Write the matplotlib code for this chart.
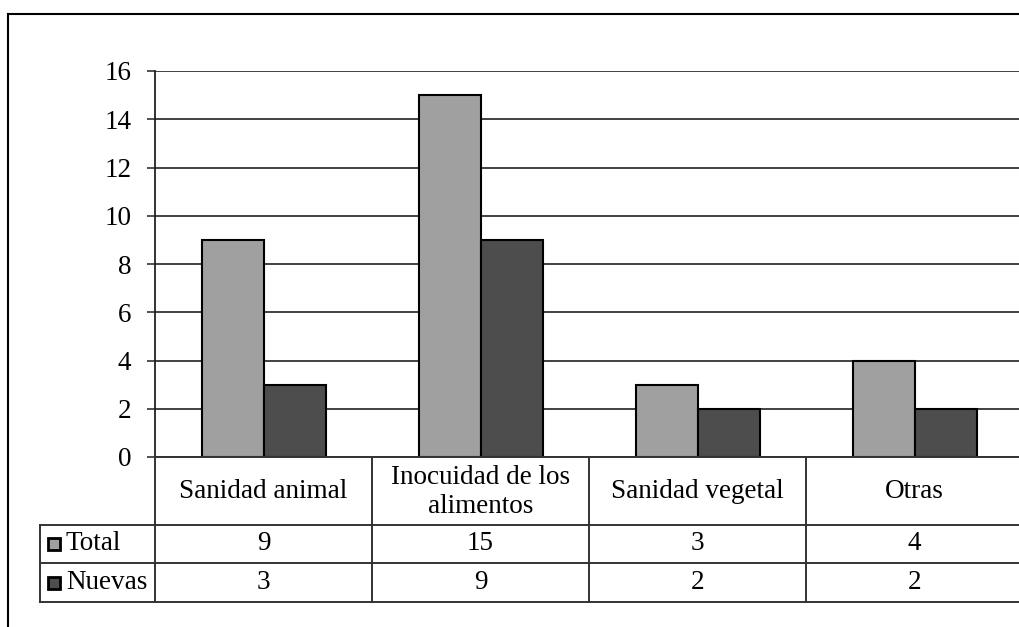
import matplotlib.pyplot as plt
from matplotlib.patches import Rectangle
from matplotlib.lines import Line2D

# Data
categories = ['Sanidad animal', 'Inocuidad de los\nalimentos', 'Sanidad vegetal', 'Otras']
series_names = ['Total', 'Nuevas']
total = [9, 15, 3, 4]
nuevas = [3, 9, 2, 2]
yticks = [0, 2, 4, 6, 8, 10, 12, 14, 16]

colors = ['#a0a0a0', '#4d4d4d']
font = 'Liberation Serif'
fs = 19.5

W, H = 1020, 627
fig = plt.figure(figsize=(W / 100, H / 100), dpi=100)

def fx(px):
    return px / W

def fy(py):
    return 1 - py / H

# plot area (right edge runs a bit past the image like in the reference)
left, right, top, bottom = 155, 1024, 71, 457
ax = fig.add_axes([fx(left), fy(bottom), fx(right - left), fy(top) - fy(bottom)])

bw = 62 / 217
x = list(range(len(categories)))
ax.bar([i - bw / 2 for i in x], total, width=bw, color=colors[0], edgecolor='black', linewidth=1.5, zorder=3)
ax.bar([i + bw / 2 for i in x], nuevas, width=bw, color=colors[1], edgecolor='black', linewidth=1.5, zorder=3)

ax.set_xlim(-0.5, len(categories) - 0.5)
ax.set_ylim(0, 16)
ax.set_yticks(yticks)
ax.set_yticklabels([str(t) for t in yticks], fontfamily=font, fontsize=fs)
ax.tick_params(axis='y', length=6, width=1.2, color='#333333', pad=11)
ax.set_xticks([])
ax.grid(axis='y', color='#333333', linewidth=1.3, zorder=0)
for s in ['top', 'right', 'bottom']:
    ax.spines[s].set_visible(False)
ax.spines['left'].set_color('#222222')
ax.spines['left'].set_linewidth(1.3)

# data table drawn below the axes
col_w = 217
col_edges = [left + i * col_w for i in range(len(categories) + 1)]
row_y = [457, 525, 563, 602]
tbl_left = 40
lc = '#333333'
lw = 1.4

def hline(y, x0, x1):
    fig.add_artist(Line2D([fx(x0), fx(x1)], [fy(y), fy(y)], color=lc, linewidth=lw))

def vline(x0, y0, y1):
    fig.add_artist(Line2D([fx(x0), fx(x0)], [fy(y0), fy(y1)], color=lc, linewidth=lw))

hline(row_y[0], left, W)
for y in row_y[1:]:
    hline(y, tbl_left, W)
vline(tbl_left, row_y[1], row_y[3])
for xe in col_edges[:-1]:
    vline(xe, row_y[0], row_y[3])

for i, cat in enumerate(categories):
    cx = (col_edges[i] + col_edges[i + 1]) / 2
    fig.text(fx(cx), fy((row_y[0] + row_y[1]) / 2 + 1), cat, ha='center', va='center',
             fontfamily=font, fontsize=fs, linespacing=1.25)
    fig.text(fx(cx), fy((row_y[1] + row_y[2]) / 2), str(total[i]), ha='center', va='center',
             fontfamily=font, fontsize=fs)
    fig.text(fx(cx), fy((row_y[2] + row_y[3]) / 2), str(nuevas[i]), ha='center', va='center',
             fontfamily=font, fontsize=fs)

# legend keys in the table row headers
for j, name in enumerate(series_names):
    cy = (row_y[j + 1] + row_y[j + 2]) / 2
    fig.add_artist(Rectangle((fx(48), fy(cy + 6)), fx(12), fy(0) - fy(12),
                             facecolor=colors[j], edgecolor='black', linewidth=2))
    fig.text(fx(66), fy(cy), name, ha='left', va='center', fontfamily=font, fontsize=fs)

# outer chart border
fig.add_artist(Line2D([fx(8), fx(8)], [fy(14), 0], color='black', linewidth=1.5))
fig.add_artist(Line2D([fx(8), 1], [fy(14), fy(14)], color='black', linewidth=1.5))

fig.savefig('out.png', dpi=100)
